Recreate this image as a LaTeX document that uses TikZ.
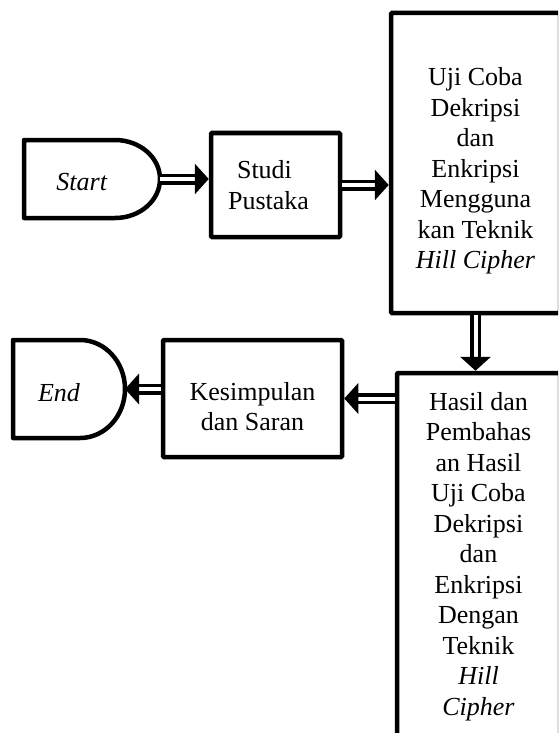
\documentclass[tikz,border=0pt]{standalone}
\usepackage{fontspec}
\setmainfont{Liberation Serif}
\usetikzlibrary{arrows.meta}
\tikzset{
  box/.style={draw, line width=4.5pt, rounded corners=1pt, align=center, inner sep=0pt},
  term/.style={line width=4.5pt, line join=round},
  dbl/.style={line width=3.5pt, double=white, double distance=4pt, -{Triangle[length=14pt,width=30pt]}},
}

\begin{document}
\begin{tikzpicture}[x=1pt, y=-1pt, font=\fontsize{26}{30.5}\selectfont]
\useasboundingbox (0,0) rectangle (558,733);
\clip (0,0) rectangle (558,733);
% terminals
\draw[term] (24,140) -- (115,140) arc[start angle=-90, end angle=0, x radius=45, y radius=39] coordinate (start-e)
  arc[start angle=0, end angle=90, x radius=45, y radius=39] -- (24,218) -- cycle;
\draw[term] (13,340) -- (80,340) arc[start angle=-90, end angle=0, x radius=45, y radius=49] coordinate (end-e)
  arc[start angle=0, end angle=90, x radius=45, y radius=49] -- (13,438) -- cycle;
\node (start) at (82,182) {\textit{Start}};
\node (end) at (59,393) {\textit{End}};

% process boxes
\node[box, minimum width=129pt, minimum height=104pt] (studi) at (275.5,185) {Studi\hspace*{22pt}\\Pustaka\hspace*{14pt}};
\node[box, minimum width=169pt, minimum height=300pt] (uji) at (475.5,163) {\rule{0pt}{34pt}Uji Coba\\Dekripsi\\dan\\Enkripsi\\Mengguna\\kan Teknik\\\textit{Hill Cipher}};
\node[box, minimum width=163pt, minimum height=367pt] (hasil) at (478.5,556.5) {Hasil dan\\Pembahas\\an Hasil\\Uji Coba\\Dekripsi\\dan\\Enkripsi\\Dengan\\Teknik\\\textit{Hill}\\\textit{Cipher}};
\node[box, minimum width=179pt, minimum height=117pt] (kesimpulan) at (252.5,398.5) {\rule{0pt}{34pt}Kesimpulan\\dan Saran};

% arrows
\draw[dbl] (start-e) -- (start-e -| studi.west);
\draw[dbl] (studi.east) -- (studi.east -| uji.west);
\draw[dbl] (uji.south) -- (uji.south |- hasil.north);
\draw[dbl] (hasil.west |- kesimpulan.east) -- (kesimpulan.east);
\draw[dbl] (kesimpulan.west |- end-e) -- (end-e);
\end{tikzpicture}
\end{document}
